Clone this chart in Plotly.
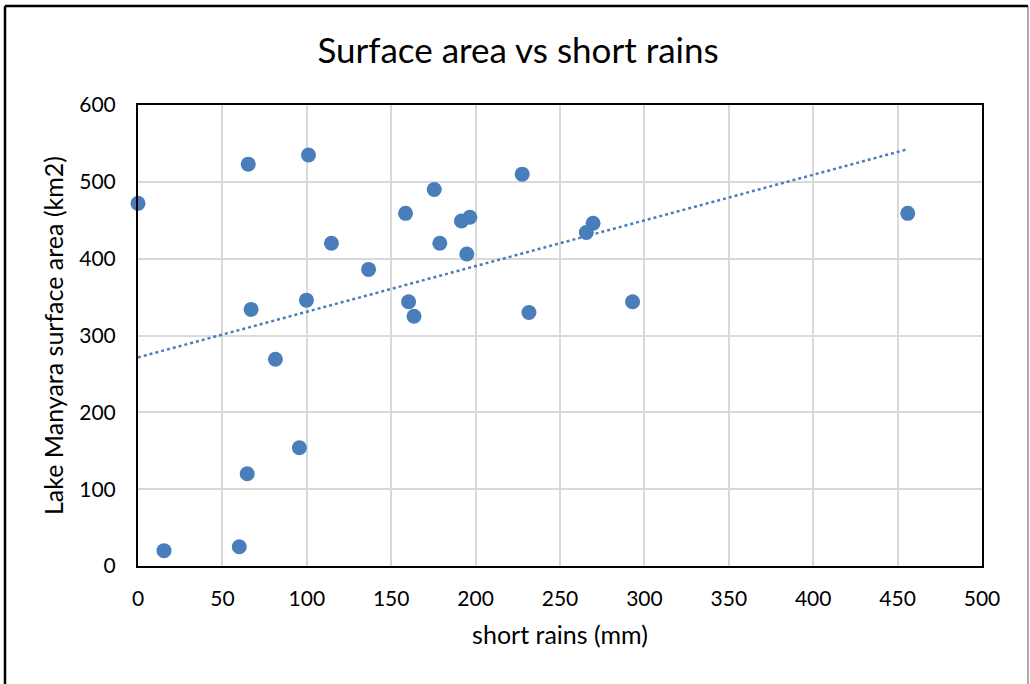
import numpy as np
import plotly.graph_objects as go

short_rains = [0, 15.4, 60, 64.7, 65.3, 67, 81.4, 95.6, 99.8, 101, 114.6, 136.6,
               158.5, 160.3, 163.5, 175.5, 178.8, 191.6, 196.6, 194.8, 227.6, 231.6,
               265.6, 269.6, 293, 456]
surface_area = [472, 20, 25, 120, 523, 334, 269, 154, 346, 535, 420, 386,
                459, 344, 325, 490, 420, 449, 454, 406, 510, 330,
                434, 446, 344, 459]

x_ticks = [0, 50, 100, 150, 200, 250, 300, 350, 400, 450, 500]
y_ticks = [0, 100, 200, 300, 400, 500, 600]

blue = "#4A7EBB"
font_family = "Lato, Carlito, 'Open Sans', sans-serif"

slope, intercept = np.polyfit(short_rains, surface_area, 1)
trend_x = [min(short_rains), max(short_rains)]
trend_y = [slope * v + intercept for v in trend_x]

fig = go.Figure()
fig.add_trace(go.Scatter(x=trend_x, y=trend_y, mode="lines",
                         line=dict(color=blue, width=2.5, dash="dot"),
                         hoverinfo="skip", showlegend=False))
fig.add_trace(go.Scatter(x=short_rains, y=surface_area, mode="markers",
                         marker=dict(color=blue, size=15, line=dict(width=0)),
                         showlegend=False, cliponaxis=False))

W, H = 1030, 684
L, R, T, B = 138, 48, 105, 118
pw, ph = W - L - R, H - T - B

def px(xp):
    return (xp - L) / pw

def py(yp):
    return (H - B - yp) / ph

fig.update_layout(
    width=W, height=H,
    margin=dict(l=L, r=R, t=T, b=B),
    paper_bgcolor="white", plot_bgcolor="white",
    font=dict(family=font_family, color="#000000", size=21),
    title=dict(text="Surface area vs short rains", x=518 / W, xref="container",
               xanchor="center", y=1 - 51 / H, yref="container", yanchor="middle",
               font=dict(size=35, family=font_family, color="#000000")),
    xaxis=dict(range=[0, 500], tickvals=x_ticks, ticktext=[str(v) for v in x_ticks],
               showgrid=True, gridcolor="#D9D9D9", gridwidth=1.5,
               zeroline=False, showline=True, linecolor="#000000", linewidth=2,
               mirror=True, ticks="", ticklabelstandoff=13,
               tickfont=dict(size=21, family=font_family),
               title=dict(text="short rains (mm)", standoff=17,
                          font=dict(size=25, family=font_family))),
    yaxis=dict(range=[0, 600], tickvals=y_ticks, ticktext=[str(v) for v in y_ticks],
               showgrid=True, gridcolor="#D9D9D9", gridwidth=1.5,
               zeroline=False, showline=True, linecolor="#000000", linewidth=2,
               mirror=True, ticks="", ticklabelstandoff=16,
               tickfont=dict(size=21, family=font_family),
               title=dict(text="Lake Manyara surface area (km2)", standoff=9,
                          font=dict(size=25, family=font_family))),
    shapes=[
        dict(type="line", xref="paper", yref="paper", x0=px(5), x1=px(5),
             y0=py(6), y1=py(700), line=dict(color="#000000", width=2.5)),
        dict(type="line", xref="paper", yref="paper", x0=px(5), x1=px(1028),
             y0=py(6), y1=py(6), line=dict(color="#000000", width=2.5)),
        dict(type="line", xref="paper", yref="paper", x0=px(1028), x1=px(1028),
             y0=py(6), y1=py(700), line=dict(color="#595959", width=1)),
    ],
)

fig.write_html("out.html")
